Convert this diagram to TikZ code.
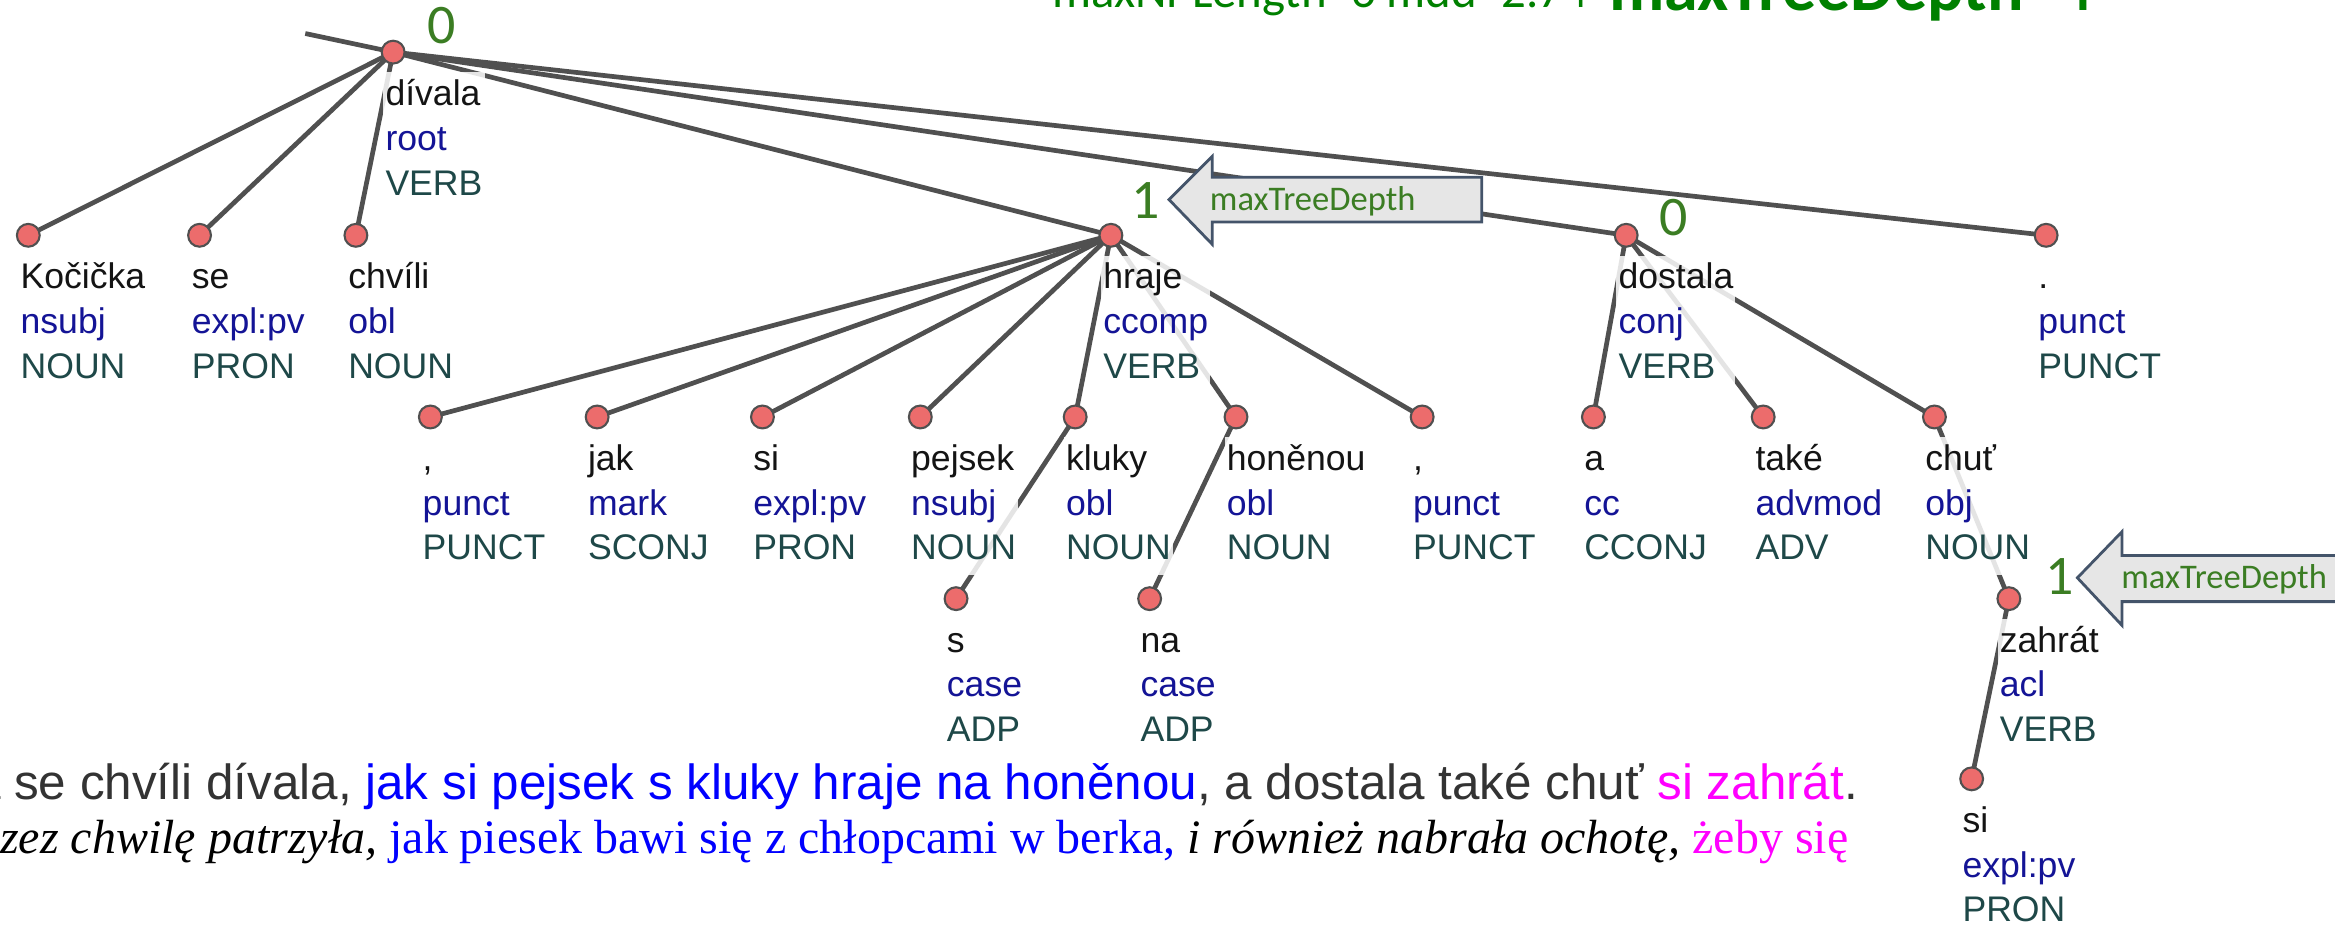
\documentclass[tikz,border=0pt]{standalone}
\usepackage{fontspec}
\setmainfont{Liberation Sans}
\newfontfamily\plserif{Liberation Serif}
\newfontfamily\calib{Carlito}
\pgfdeclarelayer{edgelayer}
\pgfdeclarelayer{labellayer}
\pgfsetlayers{edgelayer,labellayer,main}
\definecolor{edgec}{RGB}{80,80,80}
\definecolor{dotc}{RGB}{236,108,108}
\definecolor{wordc}{RGB}{20,20,20}
\definecolor{depc}{RGB}{20,20,150}
\definecolor{posc}{RGB}{30,72,72}
\definecolor{annot}{RGB}{59,125,35}
\definecolor{hdr}{RGB}{0,128,0}
\definecolor{calfill}{RGB}{230,230,230}
\definecolor{calborder}{RGB}{68,84,106}
\definecolor{sentgray}{RGB}{51,51,51}
\definecolor{sblue}{RGB}{0,0,255}
\definecolor{smag}{RGB}{255,0,255}
\newcommand\tok[3]{\begin{tabular}[t]{@{}l@{}}\color{wordc}#1\\\color{depc}#2\\\color{posc}#3\end{tabular}}
\tikzset{
  dot/.style={circle, draw=edgec, line width=0.6pt, fill=dotc, minimum size=0.23cm, inner sep=0pt},
  edge/.style={draw=edgec, line width=1.35pt},
  lbl/.style={anchor=base west, inner sep=0.6pt, fill=white, fill opacity=0.85, text opacity=1, font=\fontsize{10.2}{12.8}\selectfont},
  num/.style={anchor=base, text=annot, inner sep=0pt, font=\calib\fontsize{16}{16}\selectfont},
  callout/.style={fill=calfill, draw=calborder, line width=0.8pt},
  calltext/.style={anchor=base west, text=annot, inner sep=0pt, font=\calib\fontsize{9.9}{10}\selectfont},
  sentA/.style={anchor=base west, inner sep=0pt, text=sentgray, font=\fontsize{14.15}{16}\selectfont},
  sentB/.style={anchor=base west, inner sep=0pt, text=black, font=\plserif\fontsize{13.75}{16}\selectfont},
}
\begin{document}
\begin{tikzpicture}[x=0.015cm,y=-0.015cm]
\useasboundingbox (0,0) rectangle (1568,621);
% dots
\node[dot] (dDiv) at (264,35) {};
\node[dot] (dKoc) at (19,158) {};
\node[dot] (dSe) at (134,158) {};
\node[dot] (dChv) at (239,158) {};
\node[dot] (dHra) at (746,158) {};
\node[dot] (dDos) at (1092,158) {};
\node[dot] (dPer) at (1374,158) {};
\node[dot] (dCa) at (289,280) {};
\node[dot] (dJak) at (401,280) {};
\node[dot] (dSia) at (512,280) {};
\node[dot] (dPej) at (618,280) {};
\node[dot] (dKlu) at (722,280) {};
\node[dot] (dHon) at (830,280) {};
\node[dot] (dCb) at (955,280) {};
\node[dot] (dA) at (1070,280) {};
\node[dot] (dTak) at (1184,280) {};
\node[dot] (dChu) at (1299,280) {};
\node[dot] (dS) at (642,402) {};
\node[dot] (dNa) at (772,402) {};
\node[dot] (dZah) at (1349,402) {};
\node[dot] (dSib) at (1324,523) {};
\coordinate (rootin) at (205,22.5);
% edges
\begin{pgfonlayer}{edgelayer}
\fill[white] (0,0) rectangle (1568,621);
\draw[edge] (rootin) -- (dDiv.center);
\foreach \c in {dKoc,dSe,dChv,dHra,dDos,dPer} \draw[edge] (dDiv.center) -- (\c.center);
\foreach \c in {dCa,dJak,dSia,dPej,dKlu,dHon,dCb} \draw[edge] (dHra.center) -- (\c.center);
\draw[edge] (dKlu.center) -- (dS.center);
\draw[edge] (dHon.center) -- (dNa.center);
\foreach \c in {dA,dTak,dChu} \draw[edge] (dDos.center) -- (\c.center);
\draw[edge] (dChu.center) -- (dZah.center);
\draw[edge] (dZah.center) -- (dSib.center);
\end{pgfonlayer}
% labels
\begin{pgfonlayer}{labellayer}
\node[lbl] (lDiv) at (257,71) {\tok{dívala}{root}{VERB}};
\node[lbl] (lKoc) at (12,194) {\tok{Kočička}{nsubj}{NOUN}};
\node[lbl] (lSe) at (127,194) {\tok{se}{expl:pv}{PRON}};
\node[lbl] (lChv) at (232,194) {\tok{chvíli}{obl}{NOUN}};
\node[lbl] (lHra) at (739,194) {\tok{hraje}{ccomp}{VERB}};
\node[lbl] (lDos) at (1085,194) {\tok{dostala}{conj}{VERB}};
\node[lbl] (lPer) at (1367,194) {\tok{.}{punct}{PUNCT}};
\node[lbl] (lCa) at (282,316) {\tok{,}{punct}{PUNCT}};
\node[lbl] (lJak) at (393,316) {\tok{jak}{mark}{SCONJ}};
\node[lbl] (lSia) at (504,316) {\tok{si}{expl:pv}{PRON}};
\node[lbl] (lPej) at (610,316) {\tok{pejsek}{nsubj}{NOUN}};
\node[lbl] (lKlu) at (714,316) {\tok{kluky}{obl}{NOUN}};
\node[lbl] (lHon) at (822,316) {\tok{honěnou}{obl}{NOUN}};
\node[lbl] (lCb) at (947,316) {\tok{,}{punct}{PUNCT}};
\node[lbl] (lA) at (1062,316) {\tok{a}{cc}{CCONJ}};
\node[lbl] (lTak) at (1177,316) {\tok{také}{advmod}{ADV}};
\node[lbl] (lChu) at (1291,316) {\tok{chuť}{obj}{NOUN}};
\node[lbl] (lS) at (634,438) {\tok{s}{case}{ADP}};
\node[lbl] (lNa) at (764,438) {\tok{na}{case}{ADP}};
\node[lbl] (lZah) at (1341,438) {\tok{zahrát}{acl}{VERB}};
\node[lbl] (lSib) at (1316,559) {\tok{si}{expl:pv}{PRON}};
\end{pgfonlayer}
% depth numbers
\node[num] (n0a) at (296.5,29) {0};
\node[num] (n0b) at (1124,158) {0};
\node[num] (n1a) at (769,147) {1};
\node[num] (n1b) at (1383,399) {1};
% callout arrows
\draw[callout] (785,134) -- (814,105) -- (814,119) -- (995,119) -- (995,149) -- (814,149) -- (814,164) -- cycle;
\node[calltext] (cta) at (812,141.5) {maxTreeDepth};
\draw[callout] (1395,388) -- (1425,357) -- (1425,373) -- (1620,373) -- (1620,404) -- (1425,404) -- (1425,420) -- cycle;
\node[calltext] (ctb) at (1424,395.5) {maxTreeDepth};
% header (cut at top)
\node[anchor=base west, text=hdr, inner sep=0pt, font=\calib\fontsize{14}{14}\selectfont] (hdA) at (706,5) {maxNPLength=6 mdd=2.74};
\node[anchor=base west, text=hdr, inner sep=0pt, font=\calib\bfseries\fontsize{19.5}{20}\selectfont] (hdB) at (1080,7) {maxTreeDepth=4};
% sentences
\node[sentA] (sA) at (245,537) {\llap{Kočička se chvíli dívala, }\textcolor{sblue}{jak si pejsek s kluky hraje na honěnou}, a dostala také chuť \textcolor{smag}{si zahrát}.};
\node[sentB] (sB) at (261,573) {\llap{\textit{przez chwilę patrzyła,} }\textcolor{sblue}{jak piesek bawi się z chłopcami w berka,} \textit{i również nabrała ochotę,} \textcolor{smag}{żeby się}};
\end{tikzpicture}
\end{document}
